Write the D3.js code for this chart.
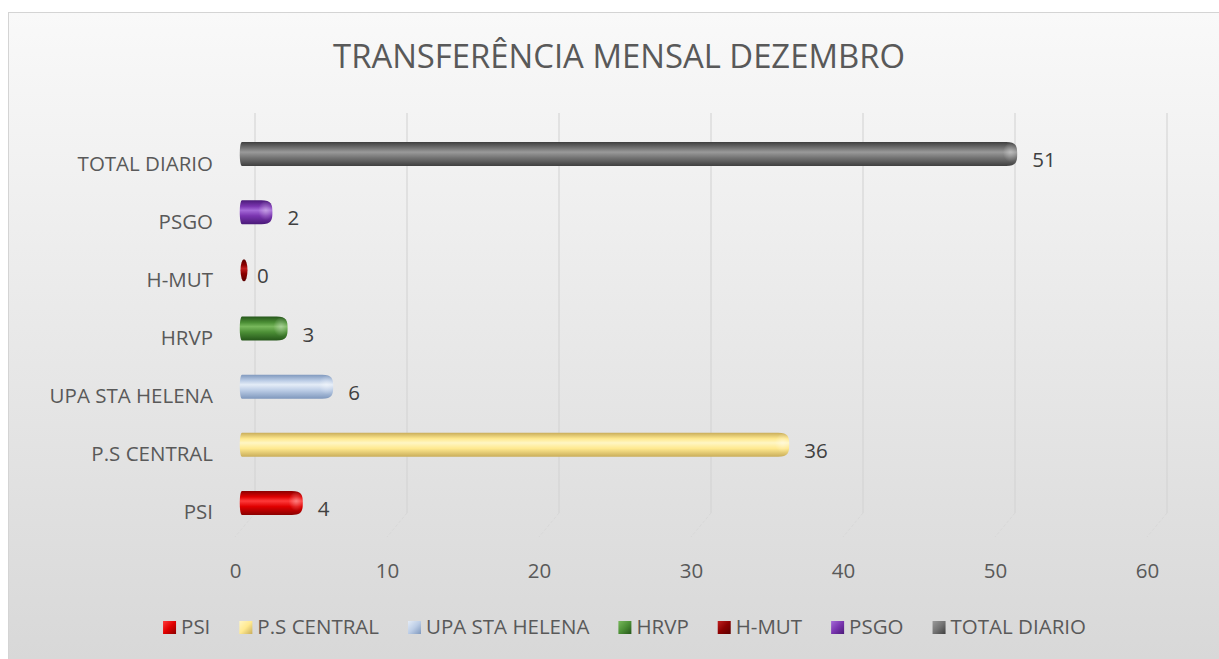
<!DOCTYPE html>
<html>
<head>
<meta charset="utf-8">
<script src="https://cdn.jsdelivr.net/npm/d3@7"></script>
<style>
  html, body { margin: 0; padding: 0; background: #ffffff; }
  svg { display: block; }
  text { font-family: "Open Sans", "Noto Sans", sans-serif; }
</style>
</head>
<body>
<svg id="chart" width="1219" height="659"></svg>
<script>
// ---- data ----
const title = "TRANSFERÊNCIA MENSAL DEZEMBRO";
const categories = ["PSI", "P.S CENTRAL", "UPA STA HELENA", "HRVP", "H-MUT", "PSGO", "TOTAL DIARIO"];
const values = [4, 36, 6, 3, 0, 2, 51];
const tickValues = [0, 10, 20, 30, 40, 50, 60];
// colours per series: [dark edge, highlight, base]
const seriesColors = [
  ["#8a0000", "#ff3a3a", "#e00000"],
  ["#c9ad5a", "#fff6c4", "#ffe98f"],
  ["#7f98bd", "#e4ecf7", "#bccde6"],
  ["#25561a", "#78b85c", "#4c8f36"],
  ["#5a0000", "#c02020", "#8b0000"],
  ["#4a1a78", "#a56ad8", "#7a35b0"],
  ["#3f3f3f", "#9a9a9a", "#747474"]
];

const W = 1219, H = 659;
const FS = 20.5;
const svg = d3.select("#chart");
const defs = svg.append("defs");

// background gradient
const bg = defs.append("linearGradient").attr("id", "bg").attr("x1", 0).attr("y1", 0).attr("x2", 0).attr("y2", 1);
bg.append("stop").attr("offset", "0%").attr("stop-color", "#f9f9f9");
bg.append("stop").attr("offset", "100%").attr("stop-color", "#d8d8d8");

svg.append("rect").attr("x", 8.5).attr("y", 12.5).attr("width", W - 8).attr("height", H - 12)
  .attr("fill", "url(#bg)").attr("stroke", "#d4d4d4").attr("stroke-width", 1);

// gradients for bars
seriesColors.forEach((c, i) => {
  const g = defs.append("linearGradient").attr("id", "bar" + i).attr("x1", 0).attr("y1", 0).attr("x2", 0).attr("y2", 1);
  g.append("stop").attr("offset", "0%").attr("stop-color", c[0]);
  g.append("stop").attr("offset", "25%").attr("stop-color", c[2]);
  g.append("stop").attr("offset", "42%").attr("stop-color", c[1]);
  g.append("stop").attr("offset", "65%").attr("stop-color", c[2]);
  g.append("stop").attr("offset", "100%").attr("stop-color", c[0]);
  const m = defs.append("linearGradient").attr("id", "mk" + i).attr("x1", 0).attr("y1", 0).attr("x2", 1).attr("y2", 1);
  m.append("stop").attr("offset", "0%").attr("stop-color", c[1]);
  m.append("stop").attr("offset", "50%").attr("stop-color", c[2]);
  m.append("stop").attr("offset", "100%").attr("stop-color", c[0]);
});
const capHi = defs.append("radialGradient").attr("id", "capHi").attr("cx", "50%").attr("cy", "45%").attr("r", "50%");
capHi.append("stop").attr("offset", "0%").attr("stop-color", "#ffffff").attr("stop-opacity", 0.35);
capHi.append("stop").attr("offset", "100%").attr("stop-color", "#ffffff").attr("stop-opacity", 0);

// ---- scales ----
const x = d3.scaleLinear().domain([0, 60]).range([242, 1154]);
const y = d3.scaleBand().domain(categories).range([532, 125]);

// ---- title ----
const t = svg.append("text").attr("x", 619).attr("y", 68).attr("text-anchor", "middle")
  .attr("fill", "#595959").attr("font-size", 28).text(title);
const tw = t.node().getComputedTextLength();
t.attr("font-size", 28 * 572 / tw);

// ---- gridlines (3D back wall + floor) ----
const grid = svg.append("g");
grid.selectAll("line.v").data(tickValues).join("line").attr("class", "v")
  .attr("x1", d => x(d) + 13).attr("x2", d => x(d) + 13)
  .attr("y1", 113).attr("y2", 513)
  .attr("stroke", "#d3d3d3").attr("stroke-width", 1.1);
grid.selectAll("line.f").data(tickValues).join("line").attr("class", "f")
  .attr("x1", d => x(d) + 13).attr("x2", d => x(d) - 7)
  .attr("y1", 513).attr("y2", 537)
  .attr("stroke", "#d8d8d8").attr("stroke-width", 1).attr("stroke-dasharray", "3,2");

// ---- x axis labels ----
const xAxis = d3.axisBottom(x).tickValues(tickValues).tickSize(0).tickPadding(0).tickFormat(d3.format("d"));
const xg = svg.append("g").attr("transform", "translate(-7, 563)").call(xAxis);
xg.select(".domain").remove();
xg.selectAll("text").attr("font-size", FS).attr("fill", "#595959").attr("font-family", "Open Sans");

// ---- y axis labels ----
const yAxis = d3.axisLeft(y).tickSize(0).tickPadding(0);
const yg = svg.append("g").attr("transform", "translate(213, 10)").call(yAxis);
yg.select(".domain").remove();
yg.selectAll("text").attr("font-size", FS).attr("fill", "#595959").attr("font-family", "Open Sans");

// ---- bars ----
const bh = 24;
const rows = categories.map((c, i) => ({ cat: c, v: values[i], i }));
const bars = svg.append("g");
rows.forEach(d => {
  const cy = y(d.cat) + y.bandwidth() / 2;
  const x0 = x(0), x1 = x(d.v);
  const g = bars.append("g");
  if (d.v === 0) {
    g.append("ellipse").attr("cx", x0 + 2).attr("cy", cy).attr("rx", 3.5).attr("ry", 11)
      .attr("fill", "url(#bar" + d.i + ")");
  } else {
    const r = Math.min(11, (x1 - x0) / 2);
    const p = d3.path();
    p.moveTo(x0, cy - bh / 2);
    p.lineTo(x1 - r, cy - bh / 2);
    p.bezierCurveTo(x1 - r + r * 0.9, cy - bh / 2, x1, cy - bh / 2 + 4, x1, cy);
    p.bezierCurveTo(x1, cy + bh / 2 - 4, x1 - r + r * 0.9, cy + bh / 2, x1 - r, cy + bh / 2);
    p.lineTo(x0, cy + bh / 2);
    p.bezierCurveTo(x0 - 3, cy + bh / 2, x0 - 3, cy - bh / 2, x0, cy - bh / 2);
    p.closePath();
    g.append("path").attr("d", p.toString()).attr("fill", "url(#bar" + d.i + ")");
    g.append("ellipse").attr("cx", x1 - r * 0.6).attr("cy", cy - 1).attr("rx", r * 0.7).attr("ry", bh / 2 - 2)
      .attr("fill", "url(#capHi)");
  }
  svg.append("text").attr("x", x1 + 15).attr("y", cy + 13)
    .attr("font-size", FS).attr("fill", "#404040").text(d.v);
});

// ---- legend ----
const legend = svg.append("g");
let lx = 0;
categories.forEach((c, i) => {
  const g = legend.append("g");
  g.append("rect").attr("x", lx).attr("y", -6).attr("width", 13).attr("height", 13)
    .attr("fill", "url(#mk" + i + ")");
  const tx = g.append("text").attr("x", lx + 18).attr("y", 7).attr("font-size", FS)
    .attr("fill", "#595959").text(c);
  const w = tx.node().getComputedTextLength();
  lx += 18 + w + 29;
});
const totalW = lx - 29;
legend.attr("transform", `translate(${624.5 - totalW / 2}, 627)`);
</script>
</body>
</html>
